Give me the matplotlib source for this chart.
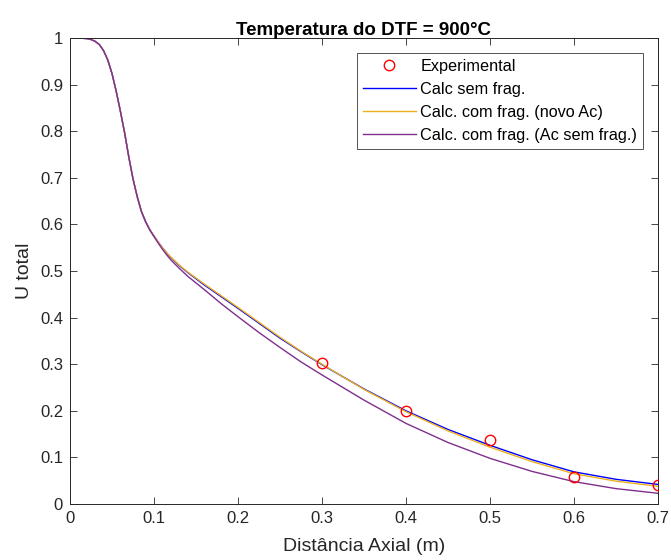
import matplotlib
matplotlib.use('Agg')
import matplotlib.pyplot as plt
from matplotlib.lines import Line2D

plt.rcParams['font.family'] = ['Liberation Sans', 'DejaVu Sans']

# Experimental points
x_exp = [0.3, 0.4, 0.5, 0.6, 0.7]
u_exp = [0.302, 0.200, 0.137, 0.057, 0.040]

# Calculated curves
x_calc = [0.0, 0.01, 0.02, 0.025, 0.03, 0.035, 0.04, 0.045, 0.05, 0.055,
          0.06, 0.065, 0.07, 0.075, 0.08, 0.085, 0.09, 0.095, 0.10, 0.105,
          0.11, 0.115, 0.12, 0.13, 0.14, 0.16, 0.18, 0.20, 0.225, 0.25,
          0.275, 0.30, 0.35, 0.40, 0.45, 0.50, 0.55, 0.60, 0.65, 0.70]
u_sem_frag = [1.0, 1.0, 0.999, 0.997, 0.993, 0.986, 0.973, 0.953, 0.924, 0.886,
              0.843, 0.797, 0.745, 0.698, 0.660, 0.628, 0.606, 0.589, 0.575, 0.562,
              0.550, 0.539, 0.529, 0.512, 0.497, 0.470, 0.445, 0.420, 0.388, 0.356,
              0.327, 0.299, 0.247, 0.200, 0.160, 0.126, 0.095, 0.069, 0.053, 0.042]
u_novo_ac = [1.0, 1.0, 0.999, 0.997, 0.993, 0.986, 0.973, 0.953, 0.924, 0.886,
             0.843, 0.797, 0.745, 0.698, 0.660, 0.628, 0.606, 0.589, 0.575, 0.562,
             0.550, 0.539, 0.530, 0.513, 0.498, 0.472, 0.447, 0.422, 0.390, 0.358,
             0.328, 0.300, 0.246, 0.198, 0.157, 0.122, 0.091, 0.065, 0.049, 0.038]
u_ac_sem_frag = [1.0, 1.0, 0.999, 0.997, 0.993, 0.986, 0.973, 0.953, 0.924, 0.886,
                 0.843, 0.797, 0.745, 0.698, 0.660, 0.628, 0.606, 0.588, 0.574, 0.560,
                 0.547, 0.535, 0.524, 0.506, 0.489, 0.460, 0.430, 0.402, 0.368, 0.336,
                 0.305, 0.277, 0.223, 0.173, 0.132, 0.098, 0.070, 0.048, 0.033, 0.023]

AX_COLOR = '#262626'

fig = plt.figure(figsize=(6.71, 5.60), dpi=100)
ax = fig.add_axes([0.1043, 0.1, 0.8763, 0.832])

ax.plot(x_exp, u_exp, 'o', color='#FF0000', markerfacecolor='none',
        markersize=7.5, markeredgewidth=1.0, zorder=5)
ax.plot(x_calc, u_sem_frag, color='#0000FF', linewidth=1.0)
ax.plot(x_calc, u_novo_ac, color='#EDB120', linewidth=1.0)
ax.plot(x_calc, u_ac_sem_frag, color='#7E2F8E', linewidth=1.0)

ax.set_xlim(0, 0.7)
ax.set_ylim(0, 1)
ax.set_xticks([0, 0.1, 0.2, 0.3, 0.4, 0.5, 0.6, 0.7])
ax.set_xticklabels(['0', '0.1', '0.2', '0.3', '0.4', '0.5', '0.6', '0.7'])
ax.set_yticks([i / 10 for i in range(11)])
ax.set_yticklabels(['0', '0.1', '0.2', '0.3', '0.4', '0.5', '0.6', '0.7', '0.8', '0.9', '1'])
ax.tick_params(direction='in', top=True, right=True, length=5, width=0.6,
               colors=AX_COLOR, labelsize=12, pad=5)
for s in ax.spines.values():
    s.set_color(AX_COLOR)
    s.set_linewidth(0.7)

ax.set_title('Temperatura do DTF = 900°C', fontsize=13.5, fontweight='bold',
             color='black', pad=2)
ax.set_xlabel('Distância Axial (m)', fontsize=14, color=AX_COLOR, labelpad=9)
ax.set_ylabel('U total', fontsize=14, color=AX_COLOR, labelpad=5)

handles = [
    Line2D([], [], linestyle='none', marker='o', color='#FF0000',
           markerfacecolor='none', markersize=7.5, markeredgewidth=1.0),
    Line2D([], [], color='#0000FF', linewidth=1.0),
    Line2D([], [], color='#EDB120', linewidth=1.0),
    Line2D([], [], color='#7E2F8E', linewidth=1.0),
]
labels = ['Experimental', 'Calc sem frag.', 'Calc. com frag. (novo Ac)',
          'Calc. com frag. (Ac sem frag.)']
leg = ax.legend(handles, labels, loc='upper right', fontsize=11.7,
                handlelength=3.26, handletextpad=0.3, borderaxespad=0.92,
                borderpad=0.35, labelspacing=0.5, fancybox=False, numpoints=1)
leg.get_frame().set_edgecolor(AX_COLOR)
leg.get_frame().set_linewidth(0.7)
for t in leg.get_texts():
    t.set_color('black')

fig.savefig('out.png', dpi=100)
